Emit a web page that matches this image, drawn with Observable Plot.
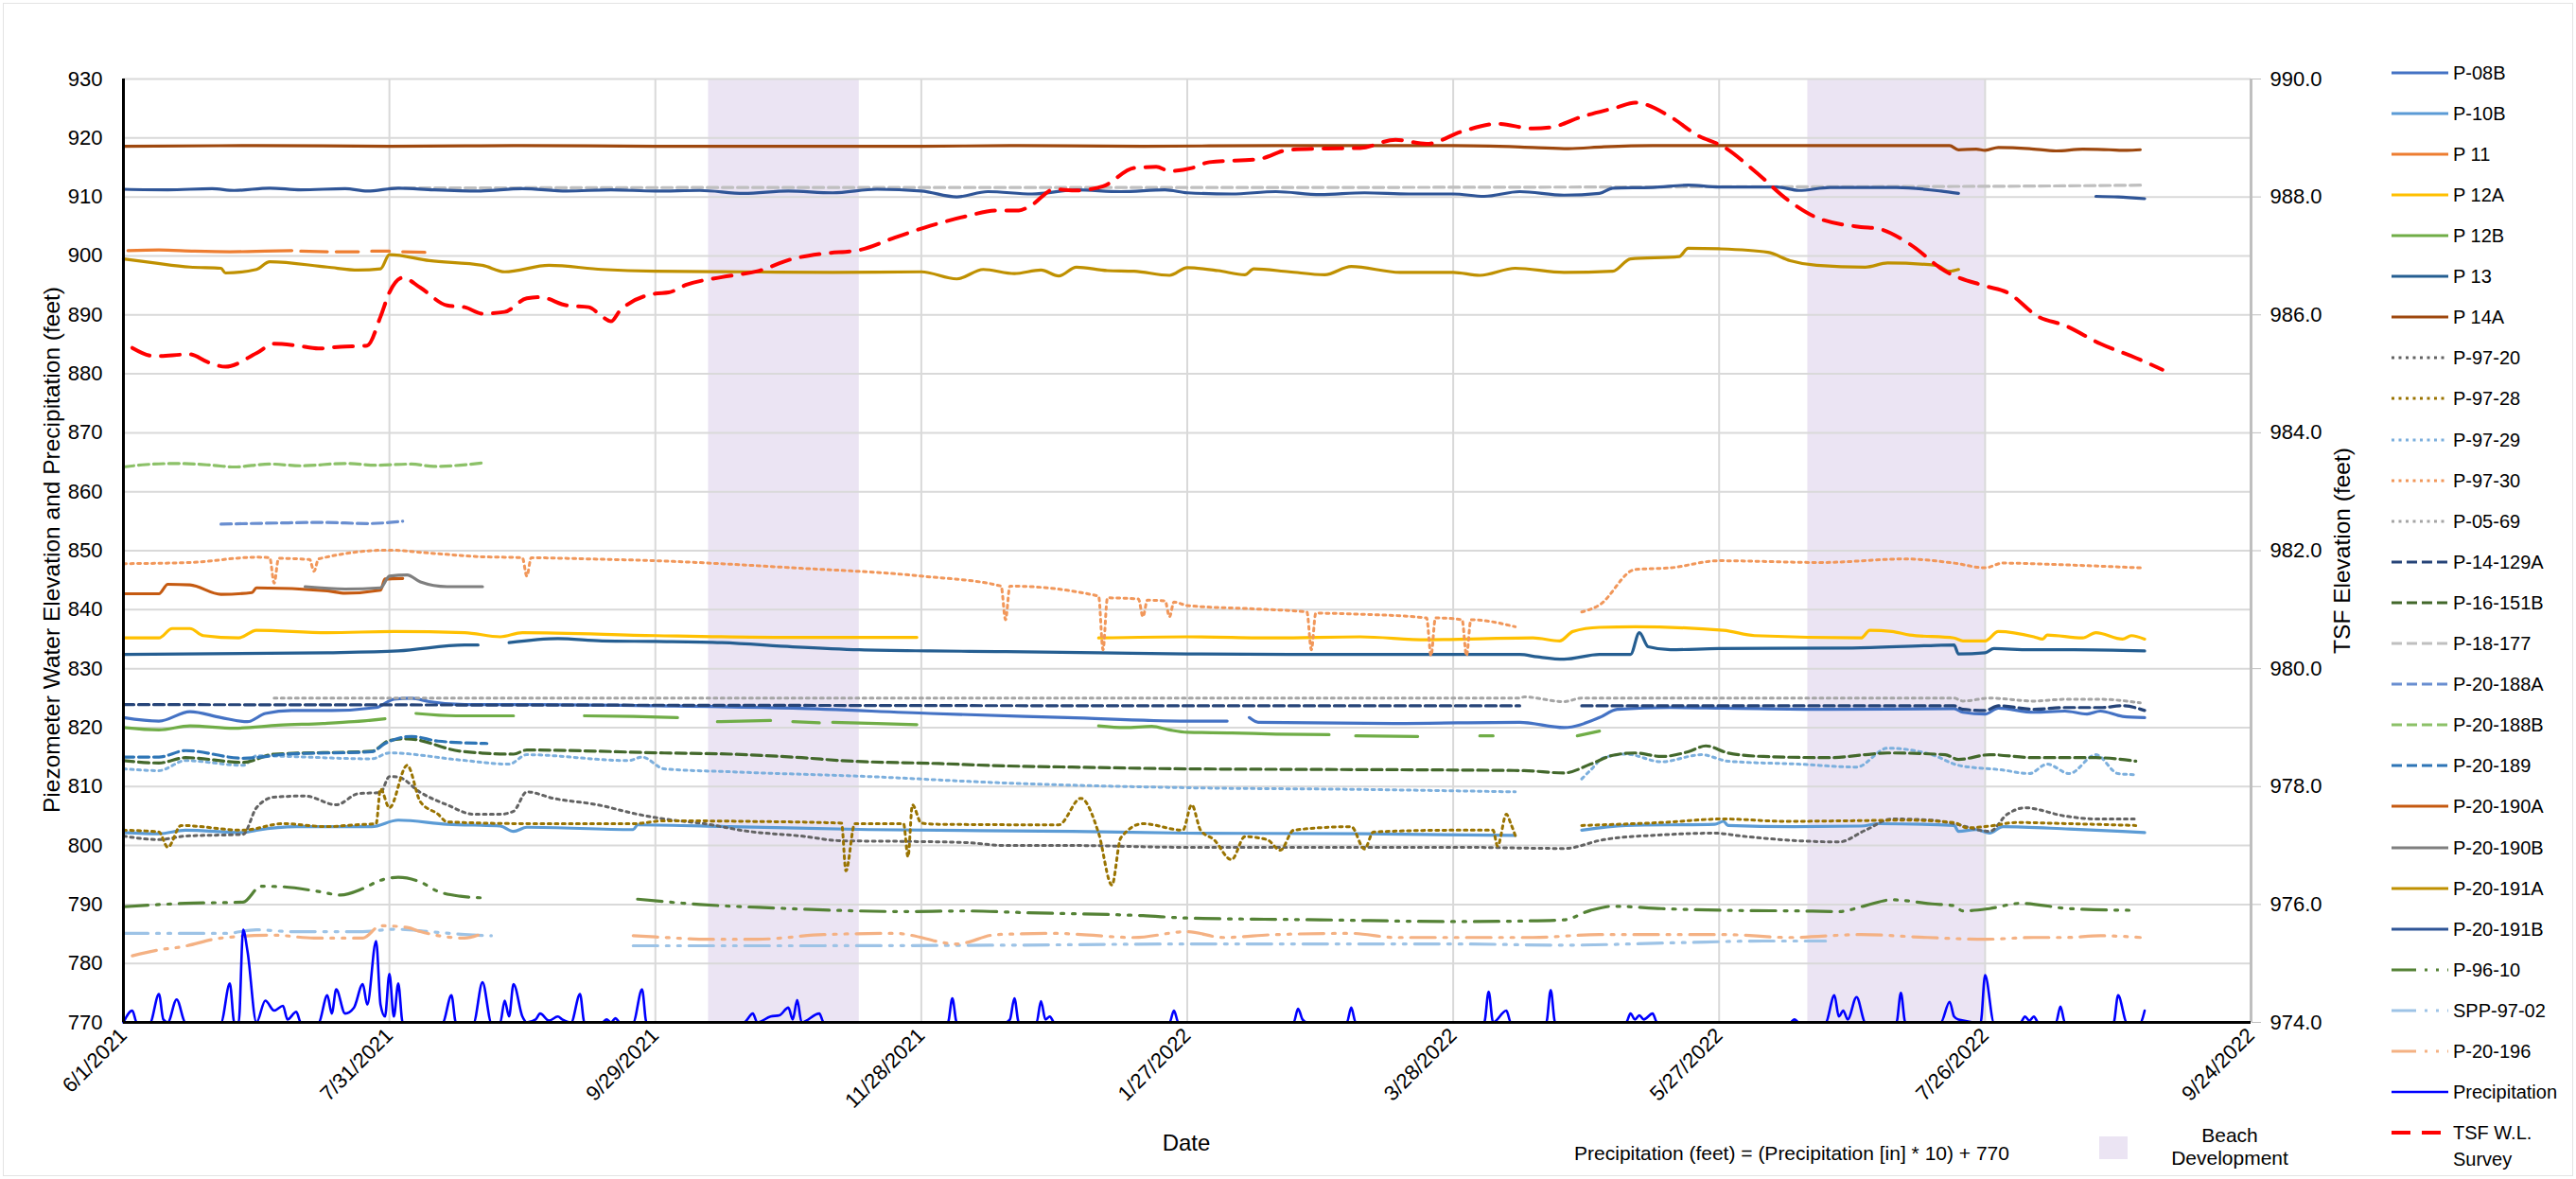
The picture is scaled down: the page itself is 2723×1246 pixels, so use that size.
<!DOCTYPE html>
<html><head><meta charset="utf-8">
<script src="https://cdn.jsdelivr.net/npm/d3@7"></script>
<script src="https://cdn.jsdelivr.net/npm/@observablehq/plot@0.6"></script>
<style>
body{margin:0;background:#fff;font-family:"Liberation Sans",Arial,sans-serif;}
#wrap{position:relative;width:2723px;height:1246px;overflow:hidden;}
#frame{position:absolute;left:3px;top:3px;right:3px;bottom:3px;border:1px solid #e3e3e3;pointer-events:none;}
.t{position:absolute;white-space:nowrap;color:#000;line-height:1;}
.leg{position:absolute;left:2528px;font-size:20px;color:#000;}
.li{position:absolute;left:0;display:flex;align-items:flex-start;white-space:nowrap;}
.li svg{margin-right:5px;flex:none;}
</style></head><body><div id="wrap"><div id="frame"></div></div>
<script>
// ---------- axis / category data ----------
const START = "2021-06-01";                       // day 0 of every series below
const xTickLabels = ["6/1/2021","7/31/2021","9/29/2021","11/28/2021","1/27/2022","3/28/2022","5/27/2022","7/26/2022","9/24/2022"];
const yTicksLeft = [770,780,790,800,810,820,830,840,850,860,870,880,890,900,910,920,930];
const yTicksRight = [974,976,978,980,982,984,986,988,990];
const beachPeriods = [["2021-10-11","2021-11-14"],["2022-06-16","2022-07-26"]];

// ---------- series: [day since START, value]; null = gap ----------
const p08B = [[0,821.7],[8,821.1],[15,822.7],[22,821.7],[28,821.0],[32,822.4],[38,822.9],[47,822.9],[57,823.4],[61,824.8],[65,825.0],[69,824.4],[77,823.9],[93,823.9],[120,823.7],[151,823.3],[182,822.4],[213,821.7],[240,821.1],[249,821.1],null,[254,821.7],[256,820.9],[287,820.7],[315,820.9],[325,820.0],[333,821.7],[337,823.1],[349,823.4],[361,823.3],[384,823.1],[413,823.2],[415,822.6],[420,822.3],[423,823.3],[431,822.6],[438,822.8],[443,822.3],[446,822.8],[451,821.9],[456,821.7]];
const p10B = [[0,802.2],[8,802.0],[14,802.6],[27,802.2],[30,802.6],[39,803.2],[56,803.2],[62,804.3],[73,803.6],[85,803.3],[88,802.4],[91,803.1],[115,802.7],[116,803.5],[137,803.2],[168,802.7],[214,802.4],[240,802.1],[280,802.0],[314,801.7],null,[329,802.6],[339,803.4],[359,803.6],[361,804.1],[362,803.4],[377,803.2],[392,803.3],[396,803.7],[413,803.4],[414,802.4],[418,802.7],[421,802.1],[424,803.2],[439,802.8],[451,802.4],[456,802.2]];
const p11 = [[1,900.9],[8,901.0],[16,900.8],[24,900.7],[32,900.8],[38,900.9],null,[40,900.8],[46,900.7],null,[48,900.7],[53,900.7],null,[56,900.8],[60,900.8],null,[63,900.7],[68,900.6]];
const p12A = [[0,835.2],[8,835.2],[11,836.8],[15,836.8],[18,835.6],[26,835.2],[30,836.5],[46,836.1],[61,836.3],[77,836.1],[85,835.4],[90,836.1],[120,835.6],[150,835.3],[179,835.3],null,[220,835.2],[240,835.4],[260,835.2],[279,835.4],[294,834.9],[318,835.2],[324,834.7],[327,836.3],[333,837.0],[341,837.1],[361,836.5],[368,835.6],[392,835.2],[394,836.5],[399,836.3],[403,835.7],[413,835.2],[415,834.7],[420,834.7],[423,836.3],[431,835.4],[433,835.0],[434,835.7],[442,835.2],[445,836.1],[451,835.0],[453,835.6],[456,835.0]];
const p12B = [[0,820.0],[8,819.6],[15,820.3],[25,819.9],[35,820.4],[45,820.7],[52,821.0],[59,821.5],null,[66,822.4],[75,822.0],[88,822.0],null,[104,822.0],[115,821.9],[125,821.7],null,[134,821.0],[146,821.2],null,[151,821.0],[157,820.8],null,[160,820.9],[170,820.7],[179,820.5],null,[220,820.3],[226,820.0],[232,820.2],[236,819.6],[240,819.2],[250,819.1],[260,818.9],[272,818.8],null,[278,818.6],[292,818.5],null,[306,818.6],[309,818.6],null,[328,818.6],[333,819.4]];
const p13 = [[0,832.4],[46,832.7],[62,833.0],[77,834.0],[80,834.0],null,[87,834.4],[98,835.1],[108,834.7],[120,834.6],[135,834.4],[151,833.7],[166,833.2],[182,833.0],[197,832.9],[220,832.7],[240,832.5],[280,832.4],[315,832.4],[319,832.0],[325,831.6],[333,832.4],[340,832.4],[342,836.1],[344,833.7],[349,833.2],[360,833.4],[390,833.5],[407,833.9],[413,834.0],[414,832.5],[420,832.7],[422,833.4],[430,833.2],[440,833.2],[456,833.0]];
const p14A = [[0,918.6],[30,918.7],[60,918.6],[90,918.7],[120,918.6],[150,918.6],[180,918.6],[200,918.7],[230,918.6],[260,918.7],[300,918.7],[318,918.4],[326,918.2],[334,918.5],[345,918.7],[380,918.7],[412,918.7],[414,918.0],[418,918.1],[420,917.9],[423,918.4],[430,918.2],[436,917.8],[442,918.1],[448,918.0],[452,917.9],[455,918.0]];
const p97_20 = [[0,801.6],[8,801.0],[14,801.6],[27,801.9],[30,806.4],[34,808.2],[41,808.4],[48,806.9],[53,808.8],[58,809.0],[60,811.7],[62,811.6],[67,809.0],[73,806.9],[79,805.3],[85,805.3],[88,805.8],[91,809.1],[97,808.0],[107,806.9],[116,805.3],[122,804.5],[131,803.7],[141,802.4],[153,801.6],[162,800.8],[176,800.7],[190,800.5],[199,800.0],[214,800.0],[239,799.7],[301,799.7],[325,799.5],[334,801.0],[347,801.8],[359,802.1],[365,801.6],[378,800.8],[387,800.6],[393,802.6],[399,804.5],[408,804.3],[413,803.7],[421,802.4],[425,805.3],[429,806.4],[438,805.0],[445,804.5],[454,804.5]];
const p97_28 = [[0,802.6],[8,802.3],[10,799.7],[13,803.4],[27,802.6],[36,803.7],[46,803.2],[52,803.5],[57,803.7],[58,809.6],[60,806.4],[64,813.6],[67,807.4],[71,805.3],[73,804.0],[92,803.7],[115,803.7],[122,804.2],[140,804.1],[162,803.8],[163,795.7],[165,803.7],[176,803.7],[177,798.1],[178,806.9],[180,803.8],[184,803.6],[211,803.5],[216,808.0],[220,802.1],[223,793.3],[225,801.3],[230,803.7],[239,802.6],[241,806.9],[243,802.6],[246,801.0],[250,797.6],[253,801.5],[258,801.0],[261,799.2],[264,802.6],[277,803.2],[280,799.4],[282,802.3],[300,802.6],[309,802.6],[310,799.9],[312,805.3],[313,803.7],[314,801.7],null,[329,803.4],[347,803.9],[361,804.5],[375,804.1],[390,804.2],[402,804.3],[413,803.9],[416,803.0],[421,803.3],[427,803.9],[439,803.7],[454,803.4]];
const p97_29 = [[0,813.0],[8,812.7],[14,814.4],[27,813.6],[30,815.2],[56,814.7],[60,815.7],[76,814.5],[87,813.8],[91,815.4],[114,814.4],[117,815.0],[122,813.0],[137,812.5],[168,811.7],[199,810.6],[240,809.8],[280,809.5],[314,809.1],null,[329,811.3],[331,812.8],[334,814.9],[339,815.5],[347,814.2],[356,815.4],[362,814.3],[378,813.8],[391,813.3],[398,816.5],[408,815.4],[414,813.6],[424,812.8],[430,812.2],[434,813.8],[439,812.2],[445,815.4],[450,812.2],[454,812.0]];
const p97_30 = [[0,847.8],[15,848.0],[30,848.9],[33,848.8],[34,844.5],[35,848.7],[42,848.5],[43,846.5],[44,848.6],[60,850.1],[69,849.6],[80,849.0],[90,848.8],[91,845.7],[92,848.8],[105,848.6],[120,848.3],[151,847.1],[180,845.7],[198,844.0],[199,838.3],[200,844.0],[220,842.3],[221,833.2],[222,842.0],[229,841.8],[230,838.8],[231,841.6],[235,841.5],[236,838.8],[237,841.3],[240,840.7],[256,840.1],[267,839.6],[268,833.2],[269,839.4],[280,839.2],[294,838.6],[295,832.2],[296,838.6],[302,838.3],[303,832.2],[304,838.3],[314,837.1],null,[329,839.6],[333,840.8],[341,846.8],[349,847.1],[360,848.3],[383,848.0],[402,848.6],[413,847.9],[420,847.1],[424,847.9],[438,847.6],[455,847.1]];
const p05_69 = [[34,825.0],[120,825.0],[240,825.0],[315,825.0],[316,825.2],[325,824.4],[329,825.0],[360,825.0],[413,825.0],[415,824.5],[421,825.0],[431,824.5],[438,824.8],[446,824.8],[455,824.2]];
const p14_129A = [[0,823.9],[120,823.8],[240,823.7],[315,823.7],null,[329,823.7],[413,823.7],[415,823.1],[420,822.9],[423,823.7],[431,823.1],[438,823.4],[446,823.4],[451,823.7],[456,822.9]];
const p16_151B = [[0,814.4],[8,814.0],[14,814.9],[27,814.1],[34,815.5],[56,816.0],[60,817.8],[64,818.1],[76,816.0],[88,815.5],[91,816.2],[122,815.7],[137,815.5],[153,814.9],[162,814.4],[184,813.9],[199,813.5],[214,813.3],[240,813.0],[270,812.9],[301,812.8],[316,812.7],[325,812.3],[331,813.8],[336,815.3],[341,815.7],[347,815.1],[353,815.9],[357,816.9],[362,815.7],[370,815.1],[385,814.9],[393,815.4],[398,815.7],[411,815.4],[414,814.6],[421,815.4],[431,814.9],[445,814.9],[454,814.3]];
const p18_177 = [[60,911.5],[150,911.6],[250,911.6],[350,911.7],[420,911.8],[456,912.0]];
const p20_188A = [[22,854.5],[35,854.7],[45,854.8],[55,854.6],[63,855.0]];
const p20_188B = [[0,864.2],[5,864.6],[12,864.8],[20,864.5],[25,864.2],[33,864.7],[40,864.4],[50,864.8],[57,864.5],[65,864.7],[70,864.3],[76,864.5],[81,864.9]];
const p20_189 = [[0,815.0],[8,815.0],[14,816.1],[27,814.8],[37,815.5],[56,815.9],[59,817.3],[65,818.5],[71,817.7],[82,817.3]];
const p20_190A = [[0,842.7],[8,842.7],[10,844.3],[15,844.2],[22,842.6],[29,842.9],[30,843.7],[46,843.2],[50,842.8],[58,843.3],[59,845.2],[63,845.3]];
const p20_190B = [[41,843.9],[50,843.5],[58,843.7],[60,845.7],[64,845.9],[67,844.7],[73,843.9],[81,843.9]];
const p20_191A = [[0,899.5],[7,898.8],[15,898.1],[22,897.9],[23,897.1],[30,897.7],[33,899.0],[46,898.1],[53,897.6],[58,897.8],[60,900.2],[69,899.2],[81,898.4],[86,897.3],[96,898.4],[108,897.7],[120,897.4],[140,897.3],[160,897.2],[180,897.3],[188,896.1],[194,897.7],[201,897.0],[207,897.6],[211,896.6],[215,898.1],[222,897.5],[228,897.4],[236,896.7],[240,898.0],[247,897.5],[253,896.8],[255,897.8],[263,897.3],[271,896.8],[277,898.2],[288,897.2],[300,897.2],[306,896.7],[314,897.9],[325,897.2],[336,897.4],[340,899.5],[351,899.9],[353,901.3],[360,901.2],[371,900.6],[376,899.2],[382,898.4],[393,898.1],[398,898.8],[409,898.4],[412,897.4],[414,897.7]];
const p20_191B = [[0,911.3],[10,911.2],[20,911.4],[25,911.1],[33,911.5],[40,911.2],[50,911.4],[55,911.0],[62,911.5],[70,911.2],[80,911.0],[90,911.4],[100,911.0],[110,911.2],[120,911.0],[130,911.1],[140,910.6],[150,911.0],[160,910.7],[170,911.3],[180,911.0],[188,910.0],[195,910.9],[205,910.5],[215,911.2],[225,910.9],[235,911.2],[240,910.7],[250,910.5],[260,910.9],[270,910.4],[280,910.7],[290,910.5],[300,910.5],[307,910.1],[315,910.9],[325,910.3],[333,910.6],[336,911.5],[345,911.6],[353,912.0],[360,911.7],[373,911.7],[378,911.1],[385,911.6],[400,911.6],[410,911.0],[414,910.6],null,[445,910.1],[450,910.0],[456,909.7]];
const p96_10 = [[0,789.6],[14,790.2],[27,790.4],[31,793.1],[36,793.0],[44,792.2],[49,791.6],[54,792.7],[58,794.1],[62,794.6],[67,793.8],[71,792.2],[76,791.4],[82,791.1],null,[116,790.9],[130,790.0],[147,789.4],[161,789.0],[176,788.8],[190,788.9],[204,788.6],[230,788.1],[240,787.7],[270,787.4],[301,787.1],[316,787.2],[325,787.4],[331,789.0],[336,789.7],[347,789.3],[362,789.0],[378,788.9],[387,788.8],[393,789.8],[399,790.8],[408,790.1],[413,789.8],[415,788.9],[421,789.3],[428,790.2],[439,789.3],[454,789.0]];
const spp97_02 = [[0,785.1],[23,785.1],[30,785.7],[38,785.4],[54,785.4],[61,785.8],[69,785.4],[77,784.9],[83,784.7],null,[115,783.0],[150,783.0],[200,783.1],[240,783.3],[300,783.3],[325,783.1],[350,783.5],[370,783.8],[384,783.8]];
const p20_196 = [[2,781.3],[8,782.3],[13,782.8],[22,784.3],[34,784.8],[43,784.3],[54,784.3],[58,786.4],[64,786.1],[67,785.4],[77,784.3],[80,784.8],null,[115,784.7],[120,784.5],[132,784.1],[143,784.1],[158,784.9],[174,785.1],[188,783.3],[197,784.9],[211,785.1],[216,784.9],[228,784.4],[240,785.4],[248,784.4],[260,784.9],[277,785.1],[287,784.4],[318,784.4],[333,784.9],[349,784.9],[361,784.9],[376,784.4],[392,784.9],[407,784.4],[420,784.1],[431,784.4],[438,784.4],[446,784.7],[455,784.4]];
// precipitation in inches
const precipIn = [[0,0],[2,0.2],[3,0],[6,0],[8,0.48],[9,0.05],[10,0],[12,0.39],[14,0],[22,0],[24,0.66],[25,0],[26,0],[27,1.57],[28,1.2],[30,0],[32,0.37],[34,0.2],[36,0.28],[37,0.05],[39,0.18],[40,0],[44,0],[46,0.46],[47,0.15],[48,0.56],[50,0.15],[52,0.25],[54,0.65],[55,0.3],[57,1.38],[58,0.3],[59,0.1],[60,0.82],[61,0.1],[62,0.66],[63,0],[72,0],[74,0.46],[75,0],[79,0],[81,0.68],[83,0],[85,0],[86,0.37],[87,0.1],[88,0.65],[90,0.1],[91,0],[93,0.05],[94,0.15],[96,0.03],[98,0.1],[99,0.05],[101,0],[103,0.48],[104,0],[108,0],[109,0.05],[110,0],[111,0.07],[112,0],[115,0],[117,0.56],[118,0],[140,0],[142,0.15],[143,0],[146,0.1],[148,0.12],[150,0.25],[151,0.05],[152,0.38],[153,0],[157,0.15],[158,0],[186,0],[187,0.41],[188,0],[199,0],[200,0.05],[201,0.41],[202,0],[206,0],[207,0.36],[208,0.05],[209,0.1],[210,0],[236,0],[237,0.2],[238,0],[264,0],[265,0.23],[266,0.05],[267,0],[276,0],[277,0.25],[278,0],[307,0],[308,0.52],[309,0],[312,0.2],[313,0],[321,0],[322,0.55],[323,0],[339,0],[340,0.15],[341,0.05],[342,0.12],[343,0.05],[345,0.15],[346,0],[376,0],[377,0.05],[378,0],[384,0],[386,0.46],[387,0.1],[388,0.2],[389,0.05],[391,0.43],[393,0],[400,0],[401,0.5],[402,0],[410,0],[412,0.35],[413,0.1],[414,0.05],[419,0],[420,0.8],[422,0],[428,0],[429,0.1],[430,0.03],[431,0.1],[432,0],[436,0],[437,0.27],[438,0],[449,0],[450,0.46],[452,0],[455,0],[456,0.2]];
// TSF water level survey (TSF elevation, right axis)
const tsfSurvey = [[2,985.44],[7,985.30],[15,985.33],[19,985.20],[23,985.12],[30,985.35],[34,985.51],[39,985.48],[44,985.43],[49,985.46],[55,985.48],[58,985.97],[60,986.38],[63,986.63],[67,986.46],[73,986.16],[77,986.13],[81,986.02],[86,986.05],[91,986.28],[94,986.30],[100,986.16],[105,986.13],[108,985.97],[110,985.89],[112,986.07],[120,986.36],[123,986.38],[127,986.51],[135,986.64],[143,986.74],[151,986.95],[158,987.04],[166,987.10],[174,987.31],[182,987.51],[190,987.67],[197,987.77],[202,987.77],[205,987.87],[210,988.13],[215,988.11],[221,988.18],[228,988.49],[233,988.51],[236,988.44],[241,988.49],[245,988.59],[256,988.64],[263,988.80],[271,988.82],[279,988.83],[287,988.97],[294,988.90],[302,989.11],[310,989.24],[318,989.16],[322,989.18],[329,989.36],[337,989.52],[341,989.60],[349,989.36],[355,989.05],[361,988.85],[368,988.44],[376,987.92],[382,987.65],[392,987.49],[396,987.46],[403,987.20],[411,986.74],[420,986.49],[425,986.38],[432,985.97],[438,985.82],[446,985.51],[454,985.27],[460,985.07]];

// ---------- helpers ----------
const parseMDY = d3.utcParse("%-m/%-d/%Y");
const parseISO = d3.utcParse("%Y-%m-%d");
const t0 = parseISO(START).getTime();
const toDate = d => new Date(t0 + d * 864e5);
const precipToFeet = v => v * 10 + 770;              // Precipitation (feet) = in*10 + 770
const tsfToLeft = t => 770 + (t - 974) * 10;         // right axis 974..990 -> left 770..930
const leftToTsf = v => 974 + (v - 770) / 10;
const rows = (arr, f = v => v) => arr.map(p => p ? {x: toDate(p[0]), y: f(p[1])} : {x: null, y: null});

const xTicks = xTickLabels.map(parseMDY);
const labelOf = new Map(xTicks.map((d, i) => [+d, xTickLabels[i]]));
const beach = beachPeriods.map(([a, b]) => ({a: parseISO(a), b: parseISO(b)}));

// styles
const SOLID = null, DOT = "3,4.5", DASH = "11,5", LDD = "26,9,3,9,3,9", RED = "20,12";
const series = [
  {name: "P-08B", data: p08B, color: "#4472C4", dash: SOLID, w: 3.2},
  {name: "P-10B", data: p10B, color: "#5B9BD5", dash: SOLID, w: 3.2},
  {name: "P 11", data: p11, color: "#ED7D31", dash: SOLID, w: 3.2},
  {name: "P 12A", data: p12A, color: "#FFC000", dash: SOLID, w: 3.2},
  {name: "P 12B", data: p12B, color: "#70AD47", dash: SOLID, w: 3.2},
  {name: "P 13", data: p13, color: "#255E91", dash: SOLID, w: 3.2},
  {name: "P 14A", data: p14A, color: "#9E480E", dash: SOLID, w: 3.2},
  {name: "P-97-20", data: p97_20, color: "#636363", dash: DOT, w: 3},
  {name: "P-97-28", data: p97_28, color: "#997300", dash: DOT, w: 3},
  {name: "P-97-29", data: p97_29, color: "#7CAFDD", dash: DOT, w: 3},
  {name: "P-97-30", data: p97_30, color: "#F1975A", dash: DOT, w: 3},
  {name: "P-05-69", data: p05_69, color: "#A5A5A5", dash: DOT, w: 3},
  {name: "P-14-129A", data: p14_129A, color: "#264478", dash: DASH, w: 3.2},
  {name: "P-16-151B", data: p16_151B, color: "#43682B", dash: DASH, w: 3.2},
  {name: "P-18-177", data: p18_177, color: "#BFBFBF", dash: DASH, w: 3.2},
  {name: "P-20-188A", data: p20_188A, color: "#698ED0", dash: DASH, w: 3.2},
  {name: "P-20-188B", data: p20_188B, color: "#8CC168", dash: DASH, w: 3.2},
  {name: "P-20-189", data: p20_189, color: "#2E75B6", dash: DASH, w: 3.2},
  {name: "P-20-190A", data: p20_190A, color: "#C55A11", dash: SOLID, w: 3.2},
  {name: "P-20-190B", data: p20_190B, color: "#7F7F7F", dash: SOLID, w: 3.2},
  {name: "P-20-191A", data: p20_191A, color: "#BF9000", dash: SOLID, w: 3.2},
  {name: "P-20-191B", data: p20_191B, color: "#2F5597", dash: SOLID, w: 3.2},
  {name: "P-96-10", data: p96_10, color: "#548235", dash: LDD, w: 3.2},
  {name: "SPP-97-02", data: spp97_02, color: "#9DC3E6", dash: LDD, w: 3.2},
  {name: "P-20-196", data: p20_196, color: "#F4B183", dash: LDD, w: 3.2},
  {name: "Precipitation", data: precipIn, color: "#0000FF", dash: SOLID, w: 2.6, f: precipToFeet},
  {name: "TSF W.L.\nSurvey", data: tsfSurvey, color: "#FF0000", dash: RED, w: 4, f: tsfToLeft}
];

const x0 = xTicks[0], x1 = xTicks[xTicks.length - 1];
const yDom = [yTicksLeft[0], yTicksLeft[yTicksLeft.length - 1]];

const chart = Plot.plot({
  width: 2723, height: 1246,
  marginLeft: 130, marginRight: 344, marginTop: 83, marginBottom: 166,
  x: {type: "utc", domain: [x0, x1]},
  y: {domain: yDom},
  style: {fontFamily: "'Liberation Sans', Arial, sans-serif", fontSize: "22px", color: "#000", background: "transparent", overflow: "visible"},
  marks: [
    Plot.rect(beach, {x1: "a", x2: "b", y1: () => yDom[0], y2: () => yDom[1], fill: "#EBE4F3"}),
    Plot.ruleX(xTicks, {stroke: "#D9D9D9", strokeWidth: 2}),
    Plot.ruleY(yTicksLeft.slice(1), {stroke: "#D9D9D9", strokeWidth: 2}),
    ...series.map(s => Plot.line(rows(s.data, s.f), {
      x: "x", y: "y", stroke: s.color, strokeWidth: s.w,
      strokeDasharray: s.dash || undefined, curve: "monotone-x", strokeLinejoin: "round"
    })),
    Plot.ruleX([x1], {stroke: "#BFBFBF", strokeWidth: 3}),
    Plot.ruleY([yDom[0]], {stroke: "#000", strokeWidth: 3}),
    Plot.ruleX([x0], {stroke: "#000", strokeWidth: 3}),
    Plot.axisY(yTicksLeft, {anchor: "left", tickSize: 0, tickPadding: 22, fontSize: 22, label: null}),
    Plot.axisY(yTicksRight.map(tsfToLeft), {anchor: "right", tickSize: 10, tickPadding: 10, stroke: "#BFBFBF", fontSize: 22, label: null,
      tickFormat: d => leftToTsf(d).toFixed(1)}),
    Plot.axisX(xTicks, {anchor: "bottom", tickSize: 0, tickPadding: 10, tickRotate: -45, textAnchor: "end", fontSize: 22, label: null,
      tickFormat: d => labelOf.get(+d)})
  ]
});
const wrap = document.getElementById("wrap");
chart.style.position = "absolute"; chart.style.left = "0"; chart.style.top = "0";
wrap.appendChild(chart);

// ---------- text overlays ----------
function addText(txt, cx, cy, size, rot) {
  const d = document.createElement("div");
  d.className = "t"; d.textContent = txt;
  d.style.left = cx + "px"; d.style.top = cy + "px"; d.style.fontSize = size + "px";
  d.style.transform = "translate(-50%,-50%)" + (rot ? ` rotate(${rot}deg)` : "");
  wrap.appendChild(d);
}
addText("Piezometer Water Elevation and Precipitation (feet)", 55, 581, 24.5, -90);
addText("TSF Elevation (feet)", 2476, 582, 24.5, -90);
addText("Date", 1254, 1208, 24);
addText("Precipitation (feet) = (Precipitation [in] * 10) + 770", 1894, 1218, 21);
addText("Beach", 2357, 1199, 21);
addText("Development", 2357, 1223, 21);
const sw = document.createElement("div");
Object.assign(sw.style, {position: "absolute", left: "2219px", top: "1201px", width: "30px", height: "24px", background: "#EBE4F3"});
wrap.appendChild(sw);

// ---------- legend ----------
const leg = document.createElement("div");
leg.className = "leg"; leg.style.top = "0px";
series.forEach((s, i) => {
  const it = document.createElement("div");
  it.className = "li";
  const cy = 76.6 + i * 43.1;
  it.style.top = (cy - 12) + "px";
  const svg = d3.create("svg").attr("width", 60).attr("height", 24);
  svg.append("line").attr("x1", 0).attr("x2", 60).attr("y1", 12).attr("y2", 12)
    .attr("stroke", s.color).attr("stroke-width", s.w)
    .attr("stroke-dasharray", s.dash || null);
  it.appendChild(svg.node());
  const lab = document.createElement("div");
  lab.style.lineHeight = "28px"; lab.style.marginTop = "-2px"; lab.style.whiteSpace = "pre";
  lab.textContent = s.name;
  it.appendChild(lab);
  leg.appendChild(it);
});
wrap.appendChild(leg);
</script></body></html>
